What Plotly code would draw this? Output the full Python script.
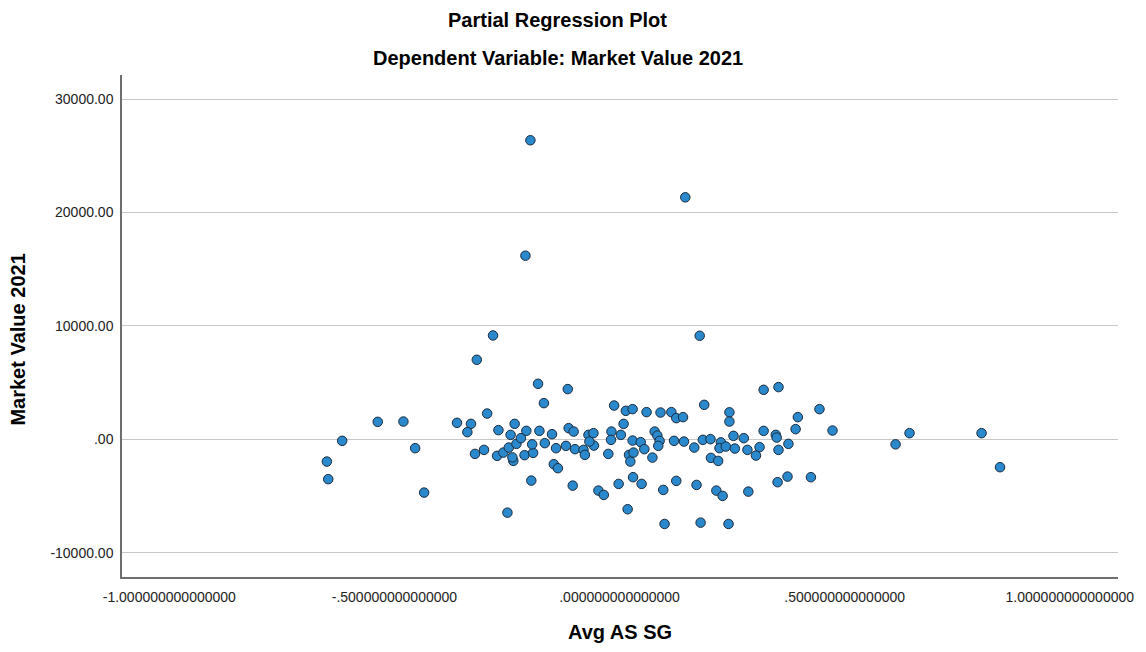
import plotly.graph_objects as go

# Partial regression residuals
avg_as_sg = [
    -0.650, -0.647, -0.616, -0.537, -0.480, -0.454, -0.434, -0.361, -0.330, -0.338,
    -0.294, -0.269, -0.321, -0.301, -0.249, -0.196, -0.181, -0.168, -0.233, -0.242,
    -0.207, -0.178, -0.272, -0.258, -0.246, -0.229, -0.236, -0.238, -0.211, -0.192,
    -0.194, -0.166, -0.219, -0.115, -0.012, 0.014, 0.029, 0.060, 0.091, 0.115,
    0.126, 0.141, 0.188, 0.244, 0.244, -0.150, -0.113, -0.102, -0.069, -0.058,
    -0.018, 0.009, 0.003, -0.019, 0.078, 0.084, 0.029, 0.047, 0.089, 0.121,
    0.143, 0.185, 0.202, 0.225, 0.253, 0.276, -0.141, -0.119, -0.099, -0.080,
    -0.077, -0.057, -0.067, -0.146, -0.137, -0.025, 0.021, 0.024, 0.031, 0.055,
    0.073, 0.086, 0.166, 0.203, 0.219, 0.222, 0.236, 0.256, 0.284, -0.104,
    -0.047, -0.035, -0.002, 0.030, 0.049, 0.097, 0.126, 0.171, 0.215, 0.229,
    0.286, 0.018, 0.100, 0.180, 0.242, 0.320, 0.353, 0.396, 0.444, 0.391,
    0.473, 0.320, 0.347, 0.349, 0.311, 0.303, 0.353, 0.375, 0.351, 0.373,
    0.425, 0.613, 0.644, 0.804, 0.845, -0.198, 0.146, -0.209, -0.281, -0.317,
    0.178,
]
market_value_2021 = [
    -1960, -3510, -130, 1545, 1571, -777, -4695, 1456, 1368, 635,
    2277, 812, -1280, -927, -6461, -3636, 4898, 3195, 1368, 397,
    750, 750, -1456, -1165, -724, -397, -1898, -1589, -1394, -1192,
    -441, -335, 106, 4431, 2983, 2515, 2665, 2401, 2365, 2401,
    1871, 1959, 3045, 2383, 1571, 459, 988, 688, 397, 547,
    688, 1368, 397, -44, 688, 335, -106, -247, -132, -132,
    -194, -44, 18, -265, 309, 106, -777, -574, -865, -927,
    -1368, -547, -194, -2189, -2542, -1280, -1368, -1959, -1165, -865,
    -1606, -574, -724, -1633, -1898, -777, -635, -812, -927, -4078,
    -4519, -4898, -3928, -3336, -3928, -4457, -3663, -4016, -4519, -4987,
    -4607, -6161, -7458, -7343, -7458, 4369, 4607, 1959, 2665, 900,
    777, 750, 397, 159, -688, -1430, -927, -397, -3778, -3283,
    -3336, -441, 547, 547, -2454, 26372, 21341, 16196, 9161, 7017,
    9135,
]

x_tick_vals = [-1.0, -0.5, 0.0, 0.5, 1.0]
x_tick_text = ["-1.000000000000000", "-.500000000000000", ".000000000000000",
               ".500000000000000", "1.000000000000000"]
y_tick_vals = [-10000, 0, 10000, 20000, 30000]
y_tick_text = ["-10000.00", ".00", "10000.00", "20000.00", "30000.00"]

FONT = "Liberation Sans, Arial, sans-serif"
TICK_FONT = dict(family=FONT, size=14, color="#222222")
TITLE_FONT = dict(family=FONT, size=20, color="black")

fig = go.Figure()
fig.add_trace(go.Scatter(
    x=avg_as_sg, y=market_value_2021, mode="markers",
    marker=dict(size=9.5, color="#2a89cc", line=dict(color="#1b2a3a", width=1)),
    showlegend=False,
))

fig.update_layout(
    width=1146, height=652,
    margin=dict(l=122, r=23, t=75, b=75),
    paper_bgcolor="white", plot_bgcolor="white",
    font=dict(family=FONT, color="#222222", size=14),
    xaxis=dict(
        range=[-1.105, 1.107], tickvals=x_tick_vals, ticktext=x_tick_text,
        showgrid=False, zeroline=False, showline=True, linecolor="#6e6e6e",
        linewidth=1.5, ticks="", ticklabelstandoff=6, tickfont=TICK_FONT,
    ),
    yaxis=dict(
        range=[-12136, 32127], tickvals=y_tick_vals, ticktext=y_tick_text,
        showgrid=True, gridcolor="#c8c8c8", gridwidth=1, zeroline=False,
        showline=True, linecolor="#6e6e6e", linewidth=1.5, ticks="",
        ticklabelstandoff=4, tickfont=TICK_FONT,
    ),
    annotations=[
        dict(text="<b>Partial Regression Plot</b>", xref="paper", yref="paper",
             x=0.4376, y=1.1096, xanchor="center", yanchor="middle",
             showarrow=False, font=TITLE_FONT),
        dict(text="<b>Dependent Variable: Market Value 2021</b>", xref="paper", yref="paper",
             x=0.4376, y=1.034, xanchor="center", yanchor="middle",
             showarrow=False, font=TITLE_FONT),
        dict(text="<b>Avg AS SG</b>", xref="paper", yref="paper",
             x=0.5, y=-0.1096, xanchor="center", yanchor="middle",
             showarrow=False, font=TITLE_FONT),
        dict(text="<b>Market Value 2021</b>", xref="paper", yref="paper",
             x=-0.1039, y=0.472, xanchor="center", yanchor="middle", textangle=-90,
             showarrow=False, font=TITLE_FONT),
    ],
)

fig.write_html("out.html",
               config={"displayModeBar": False},
               post_script="document.body.style.margin='0';document.body.style.overflow='hidden';")
